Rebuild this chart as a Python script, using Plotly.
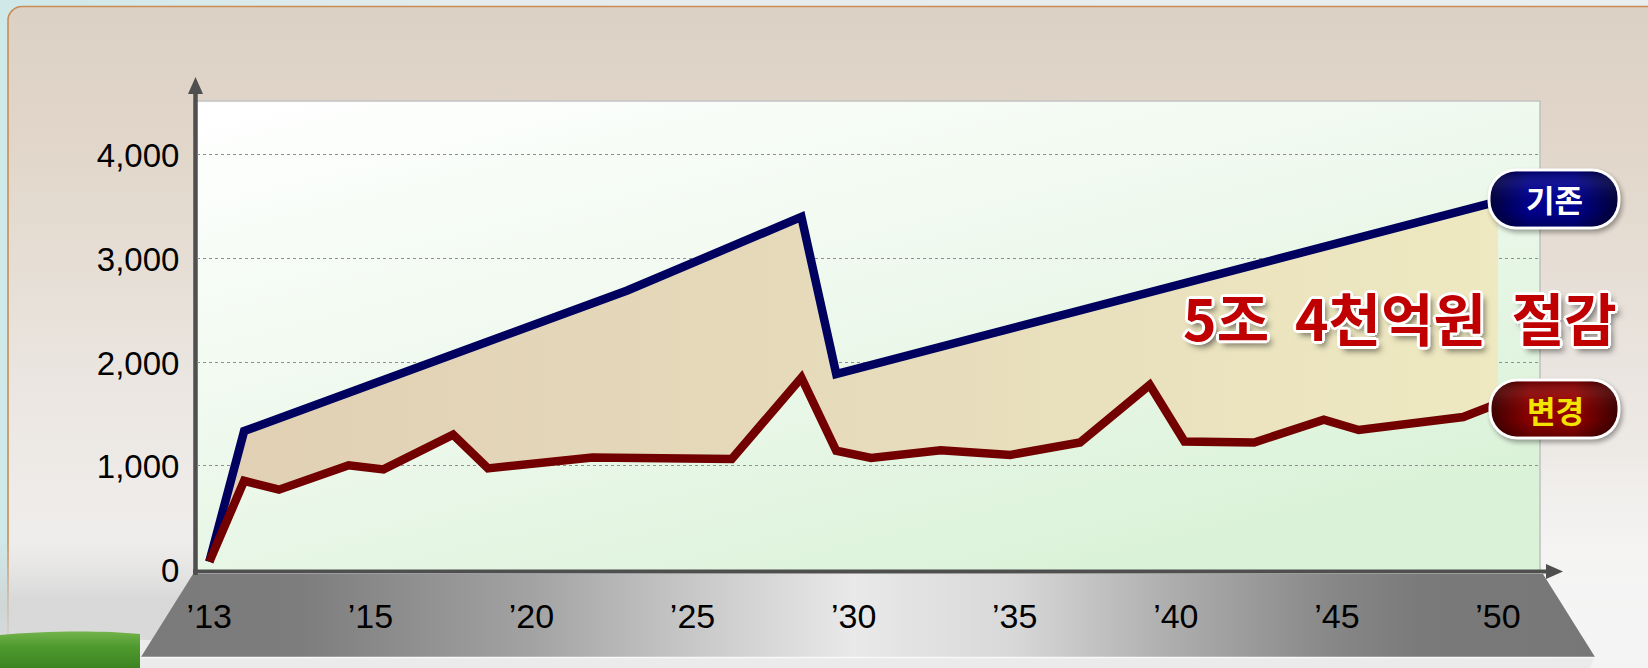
import base64
import plotly.graph_objects as go

# ---------------- data ----------------
base_years = [2013, 2014, 2025, 2030, 2031, 2050]
base_values = [75, 1335, 2690, 3400, 1885, 3550]

new_years = [2013, 2014, 2015, 2017, 2018, 2020, 2021, 2024, 2028, 2030, 2031,
             2032, 2034, 2036, 2038, 2040, 2041, 2043, 2045, 2046, 2049, 2050]
new_values = [75, 855, 770, 1005, 965, 1300, 975, 1080, 1065, 1850, 1145,
              1075, 1150, 1105, 1225, 1780, 1235, 1225, 1445, 1345, 1470, 1600]

x_tick_labels = ["’13", "’15", "’20", "’25", "’30", "’35", "’40", "’45", "’50"]
y_tick_values = [0, 1000, 2000, 3000, 4000]

series_names = ["기존", "변경"]
savings_text = "5조 \u00a04천억원 \u00a0절감"

# ---------------- geometry ----------------
W, H = 1648, 668
PL, PR, PT, PB = 197, 1540, 101, 569.5
first_year, last_year = base_years[0], base_years[-1]
px_per_year = (1498 - 209.3) / (last_year - first_year)
x_lo = first_year - (209.3 - PL) / px_per_year
x_hi = last_year + (PR - 1498) / px_per_year
px_per_unit = 0.10371
y_hi = (PB - PT) / px_per_unit

n_lab = len(x_tick_labels)
x_tick_vals = [first_year + i * (last_year - first_year) / (n_lab - 1) for i in range(n_lab)]


def fx(x):
    return x / W


def fy(y):
    return 1 - y / H


# ---------------- background svg ----------------
band_stops = [(0, "#7a7a7a"), (0.11, "#7d7d7d"), (0.27, "#a3a3a3"), (0.38, "#c8c8c8"),
              (0.49, "#e9e9e9"), (0.6, "#d8d8d8"), (0.71, "#adadad"), (0.82, "#878787"),
              (0.88, "#7a7a7a"), (1, "#777777")]
band_svg = "".join(f'<stop offset="{o}" stop-color="{c}"/>' for o, c in band_stops)

bg_svg = f'''<svg xmlns="http://www.w3.org/2000/svg" width="{W}" height="{H}" viewBox="0 0 {W} {H}">
<defs>
<linearGradient id="panel" x1="0" y1="0" x2="0" y2="1">
<stop offset="0" stop-color="#dbd1c4"/><stop offset="0.18" stop-color="#e1d6c9"/>
<stop offset="0.5" stop-color="#ebe6e1"/><stop offset="0.75" stop-color="#f0efee"/>
<stop offset="1" stop-color="#e6e6e6"/></linearGradient>
<linearGradient id="outer" x1="0" y1="0" x2="1" y2="0">
<stop offset="0" stop-color="#cfe8e8"/><stop offset="0.3" stop-color="#e6eced"/><stop offset="1" stop-color="#e9eeef"/></linearGradient>
<linearGradient id="plotbg" x1="0" y1="0" x2="0.7" y2="1">
<stop offset="0" stop-color="#ffffff"/><stop offset="0.4" stop-color="#f2faf1"/>
<stop offset="1" stop-color="#daf2d8"/></linearGradient>
<linearGradient id="band" x1="141" y1="0" x2="1595" y2="0" gradientUnits="userSpaceOnUse">{band_svg}</linearGradient>
<linearGradient id="grass" x1="0" y1="0" x2="0" y2="1">
<stop offset="0" stop-color="#72b44c"/><stop offset="0.4" stop-color="#509b2f"/><stop offset="1" stop-color="#3c8422"/></linearGradient>
<linearGradient id="mist" x1="0" y1="0" x2="0" y2="1">
<stop offset="0" stop-color="#d6d6d6" stop-opacity="0"/><stop offset="0.6" stop-color="#cfcfcf" stop-opacity="0.7"/>
<stop offset="1" stop-color="#d8d8d8" stop-opacity="0.9"/></linearGradient>
<linearGradient id="rightfade" x1="0" y1="0" x2="0" y2="1">
<stop offset="0" stop-color="#ffffff" stop-opacity="0"/><stop offset="1" stop-color="#f4f4f4" stop-opacity="1"/></linearGradient>
</defs>
<rect width="{W}" height="{H}" fill="url(#outer)"/>
<rect x="8" y="6.5" width="1720" height="760" rx="14" fill="url(#panel)" stroke="#c98d55" stroke-width="1.6"/>
<rect x="0" y="540" width="200" height="100" fill="url(#mist)"/>
<rect x="1540" y="450" width="108" height="218" fill="url(#rightfade)"/>
<path d="M0 635 C40 631 100 630 140 634 L140 668 L0 668 Z" fill="url(#grass)"/>
<rect x="{PL}" y="{PT}" width="{PR-PL}" height="{570-PT}" fill="url(#plotbg)"/>
<path d="M{PL} {PT} H{PR} V570" fill="none" stroke="#c2c2c2" stroke-width="1.6"/>
<polygon points="193,574 1543,574 1595,657 141,657" fill="url(#band)"/>
<polygon points="141,657 1595,657 1590,668 146,668" fill="#ebebeb"/>
<line x1="141" y1="657.5" x2="1595" y2="657.5" stroke="#f8f8f8" stroke-width="1.5"/>
<line x1="195.5" y1="575" x2="195.5" y2="90" stroke="#4f4f4f" stroke-width="4.5"/>
<polygon points="195.5,77 188,94 203,94" fill="#4f4f4f"/>
<line x1="193" y1="571.5" x2="1548" y2="571.5" stroke="#4f4f4f" stroke-width="4"/>
<polygon points="1563,571.5 1546,564 1546,579" fill="#4f4f4f"/>
</svg>'''


# ---------------- pills svg (drawn above the lines) ----------------
def pill(x0, y0, w, h, grad):
    r = h / 2 - 2
    return (f'<rect x="{x0+2}" y="{y0+3}" width="{w}" height="{h}" rx="{r}" fill="#000" opacity="0.35" filter="url(#sh)"/>'
            f'<rect x="{x0}" y="{y0}" width="{w}" height="{h}" rx="{r}" fill="#ffffff"/>'
            f'<rect x="{x0+3}" y="{y0+3}" width="{w-6}" height="{h-6}" rx="{r-3}" fill="url(#{grad})"/>'
            f'<rect x="{x0+3}" y="{y0+3}" width="{w-6}" height="{h-6}" rx="{r-3}" fill="url(#gloss)"/>')


pill_svg = f'''<svg xmlns="http://www.w3.org/2000/svg" width="{W}" height="{H}" viewBox="0 0 {W} {H}">
<defs>
<filter id="sh" x="-20%" y="-30%" width="140%" height="170%"><feGaussianBlur stdDeviation="2.5"/></filter>
<linearGradient id="navy" x1="0" y1="0" x2="1" y2="0">
<stop offset="0" stop-color="#00003c"/><stop offset="0.3" stop-color="#00008c"/>
<stop offset="0.65" stop-color="#000092"/><stop offset="1" stop-color="#000036"/></linearGradient>
<linearGradient id="maroon" x1="0" y1="0" x2="1" y2="0">
<stop offset="0" stop-color="#3e0000"/><stop offset="0.3" stop-color="#8a0000"/>
<stop offset="0.65" stop-color="#960000"/><stop offset="1" stop-color="#3a0000"/></linearGradient>
<linearGradient id="gloss" x1="0" y1="0" x2="0" y2="1">
<stop offset="0" stop-color="#000" stop-opacity="0.25"/><stop offset="0.3" stop-color="#fff" stop-opacity="0.05"/>
<stop offset="0.7" stop-color="#000" stop-opacity="0"/><stop offset="1" stop-color="#000" stop-opacity="0.3"/></linearGradient>
</defs>
{pill(1487.5, 168.5, 133, 61, "navy")}
{pill(1488.5, 378.5, 132, 61, "maroon")}
</svg>'''


def uri(svg):
    return "data:image/svg+xml;base64," + base64.b64encode(svg.encode("utf-8")).decode("ascii")


# ---------------- figure ----------------
fig = go.Figure()

fig.add_trace(go.Scatter(
    x=base_years, y=base_values, name=series_names[0], mode="lines",
    line=dict(color="#00005f", width=8.5), hoverinfo="x+y"))

fig.add_trace(go.Scatter(
    x=new_years, y=new_values, name=series_names[1], mode="lines",
    line=dict(color="#730000", width=8.5), fill="tonexty",
    fillgradient=dict(type="horizontal",
                      colorscale=[[0, "#e1d0b4"], [0.5, "#e6dbbb"], [1, "#eee9c1"]]),
    hoverinfo="x+y"))

fig.update_layout(
    width=W, height=H, autosize=False,
    margin=dict(l=0, r=0, t=0, b=0, pad=0),
    paper_bgcolor="#e6eced", plot_bgcolor="rgba(0,0,0,0)",
    showlegend=False,
    font=dict(family="Liberation Sans, Arial, sans-serif", color="#000000"),
    xaxis=dict(domain=[fx(PL), fx(PR)], range=[x_lo, x_hi], tickmode="array",
               tickvals=x_tick_vals, ticktext=x_tick_labels, showgrid=False,
               zeroline=False, showline=False, ticks="outside", ticklen=17,
               tickcolor="rgba(0,0,0,0)", tickfont=dict(size=34, color="#000"),
               automargin=False),
    yaxis=dict(domain=[fy(PB), fy(PT)], range=[0, y_hi], tickmode="array",
               tickvals=y_tick_values, tickformat=",d", showgrid=True,
               gridcolor="#8f8f8f", griddash="dot", gridwidth=1, zeroline=False,
               showline=False, ticks="outside", ticklen=10, tickcolor="rgba(0,0,0,0)",
               ticklabelshift=1, automargin=False,
               tickfont=dict(size=33, color="#000")),
    images=[
        dict(source=uri(bg_svg), xref="paper", yref="paper", x=0, y=1, sizex=1, sizey=1,
             xanchor="left", yanchor="top", sizing="stretch", layer="below"),
        dict(source=uri(pill_svg), xref="paper", yref="paper", x=0, y=1, sizex=1, sizey=1,
             xanchor="left", yanchor="top", sizing="stretch", layer="above"),
    ],
)

outline = ("2px 2px 0 #fff, -2px 2px 0 #fff, 2px -2px 0 #fff, -2px -2px 0 #fff, "
           "0 3px 0 #fff, 0 -3px 0 #fff, 3px 0 0 #fff, -3px 0 0 #fff, "
           "4px 5px 6px rgba(0,0,0,0.55)")

fig.add_annotation(x=fx(1400), y=fy(316), xref="paper", yref="paper", text=savings_text,
                   showarrow=False, xanchor="center", yanchor="middle",
                   font=dict(family="Noto Sans CJK KR", size=57, color="#c00000",
                             weight="bold", shadow=outline))
fig.add_annotation(x=fx(1554), y=fy(199), xref="paper", yref="paper", text=series_names[0],
                   showarrow=False, xanchor="center", yanchor="middle",
                   font=dict(family="Noto Sans CJK KR", size=31, color="#ffffff", weight="bold"))
fig.add_annotation(x=fx(1555), y=fy(409), xref="paper", yref="paper", text=series_names[1],
                   showarrow=False, xanchor="center", yanchor="middle",
                   font=dict(family="Noto Sans CJK KR", size=31, color="#f2e300", weight="bold"))

fig.write_html("out.html", config={"displayModeBar": False},
               post_script="document.body.style.margin='0';")
